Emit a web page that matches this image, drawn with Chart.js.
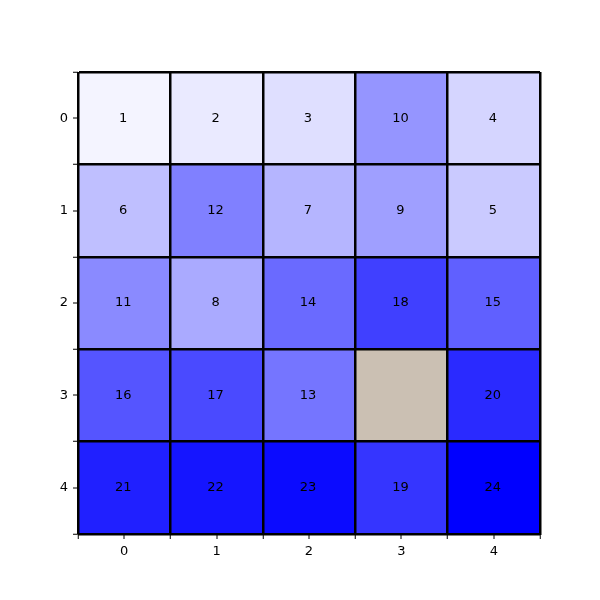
<!DOCTYPE html>
<html>
<head>
<meta charset="utf-8">
<script src="https://cdn.jsdelivr.net/npm/chart.js@4"></script>
<style>
  html, body { margin: 0; padding: 0; background: #fff; }
  #wrap { width: 600px; height: 600px; }
</style>
</head>
<body>
<div id="wrap"><canvas id="heat"></canvas></div>
<script>
// heatmap values, row by row (row 0 on top); null = missing cell
const rowLabels = ['0', '1', '2', '3', '4'];
const colLabels = ['0', '1', '2', '3', '4'];
const row0 = [1, 2, 3, 10, 4];
const row1 = [6, 12, 7, 9, 5];
const row2 = [11, 8, 14, 18, 15];
const row3 = [16, 17, 13, null, 20];
const row4 = [21, 22, 23, 19, 24];
const rows = [row0, row1, row2, row3, row4];

const vmin = 0, vmax = 24;
const badColor = '#cbc0b3';

// white -> blue
function cellColor(v) {
  if (v === null) return badColor;
  const t = Math.min(1, Math.max(0, (v - vmin) / (vmax - vmin)));
  const c = Math.round(255 * (1 - t));
  return `rgb(${c},${c},255)`;
}

const cells = [];
rows.forEach((vals, r) => {
  vals.forEach((v, c) => {
    cells.push({ x: c, y: [r - 0.5, r + 0.5], v });
  });
});

// ticks at cell centres (labelled) and cell edges (grid lines)
const halfTicks = [-0.5, 0, 0.5, 1, 1.5, 2, 2.5, 3, 3.5, 4, 4.5];
const isEdge = v => Math.abs(v - Math.round(v)) > 0.25;
const edgeOf = c => c && c.tick ? isEdge(c.tick.value) : false;

// cell text on top of bars
const cellText = {
  id: 'cellText',
  afterDraw(chart) {
    const { ctx, scales: { x, y } } = chart;
    ctx.save();
    ctx.font = '13px "DejaVu Sans"';
    ctx.fillStyle = '#000';
    ctx.textAlign = 'center';
    ctx.textBaseline = 'middle';
    cells.forEach(d => {
      if (d.v === null) return;
      ctx.fillText(String(d.v), x.getPixelForValue(d.x) - 1, y.getPixelForValue((d.y[0] + d.y[1]) / 2));
    });
    ctx.restore();
  }
};

function axisOpts(labels, extra) {
  return Object.assign({
    type: 'linear',
    min: -0.5,
    max: 4.5,
    offset: false,
    afterBuildTicks: s => { s.ticks = halfTicks.map(v => ({ value: v })); },
    ticks: {
      autoSkip: false,
      maxRotation: 0,
      padding: 5,
      color: '#000',
      font: { family: 'DejaVu Sans', size: 13 },
      callback: v => isEdge(v) ? '' : labels[Math.round(v)]
    },
    grid: {
      z: 1,
      offset: false,
      drawTicks: true,
      tickLength: 5,
      color: c => edgeOf(c) ? '#000' : 'rgba(0,0,0,0)',
      lineWidth: c => edgeOf(c) ? 2.5 : 0,
      tickColor: '#000',
      tickWidth: 1
    },
    border: { display: true, color: '#000', width: 1, z: 1 }
  }, extra);
}

new Chart(document.getElementById('heat'), {
  type: 'bar',
  data: {
    datasets: [{
      data: cells,
      backgroundColor: cells.map(d => cellColor(d.v)),
      borderWidth: 0,
      // one column wide
      barThickness: c => {
        const s = c.chart.scales.x;
        return s ? Math.abs(s.getPixelForValue(1) - s.getPixelForValue(0)) + 1 : 90;
      }
    }]
  },
  options: {
    responsive: true,
    maintainAspectRatio: false,
    animation: false,
    layout: { padding: { top: 72, right: 60, bottom: 0, left: 0 } },
    plugins: { legend: { display: false }, tooltip: { enabled: false } },
    scales: {
      x: axisOpts(colLabels, { afterFit: s => { s.height = 66; } }),
      y: axisOpts(rowLabels, { reverse: true, afterFit: s => { s.width = 78; } })
    }
  },
  plugins: [cellText]
});
</script>
</body>
</html>
